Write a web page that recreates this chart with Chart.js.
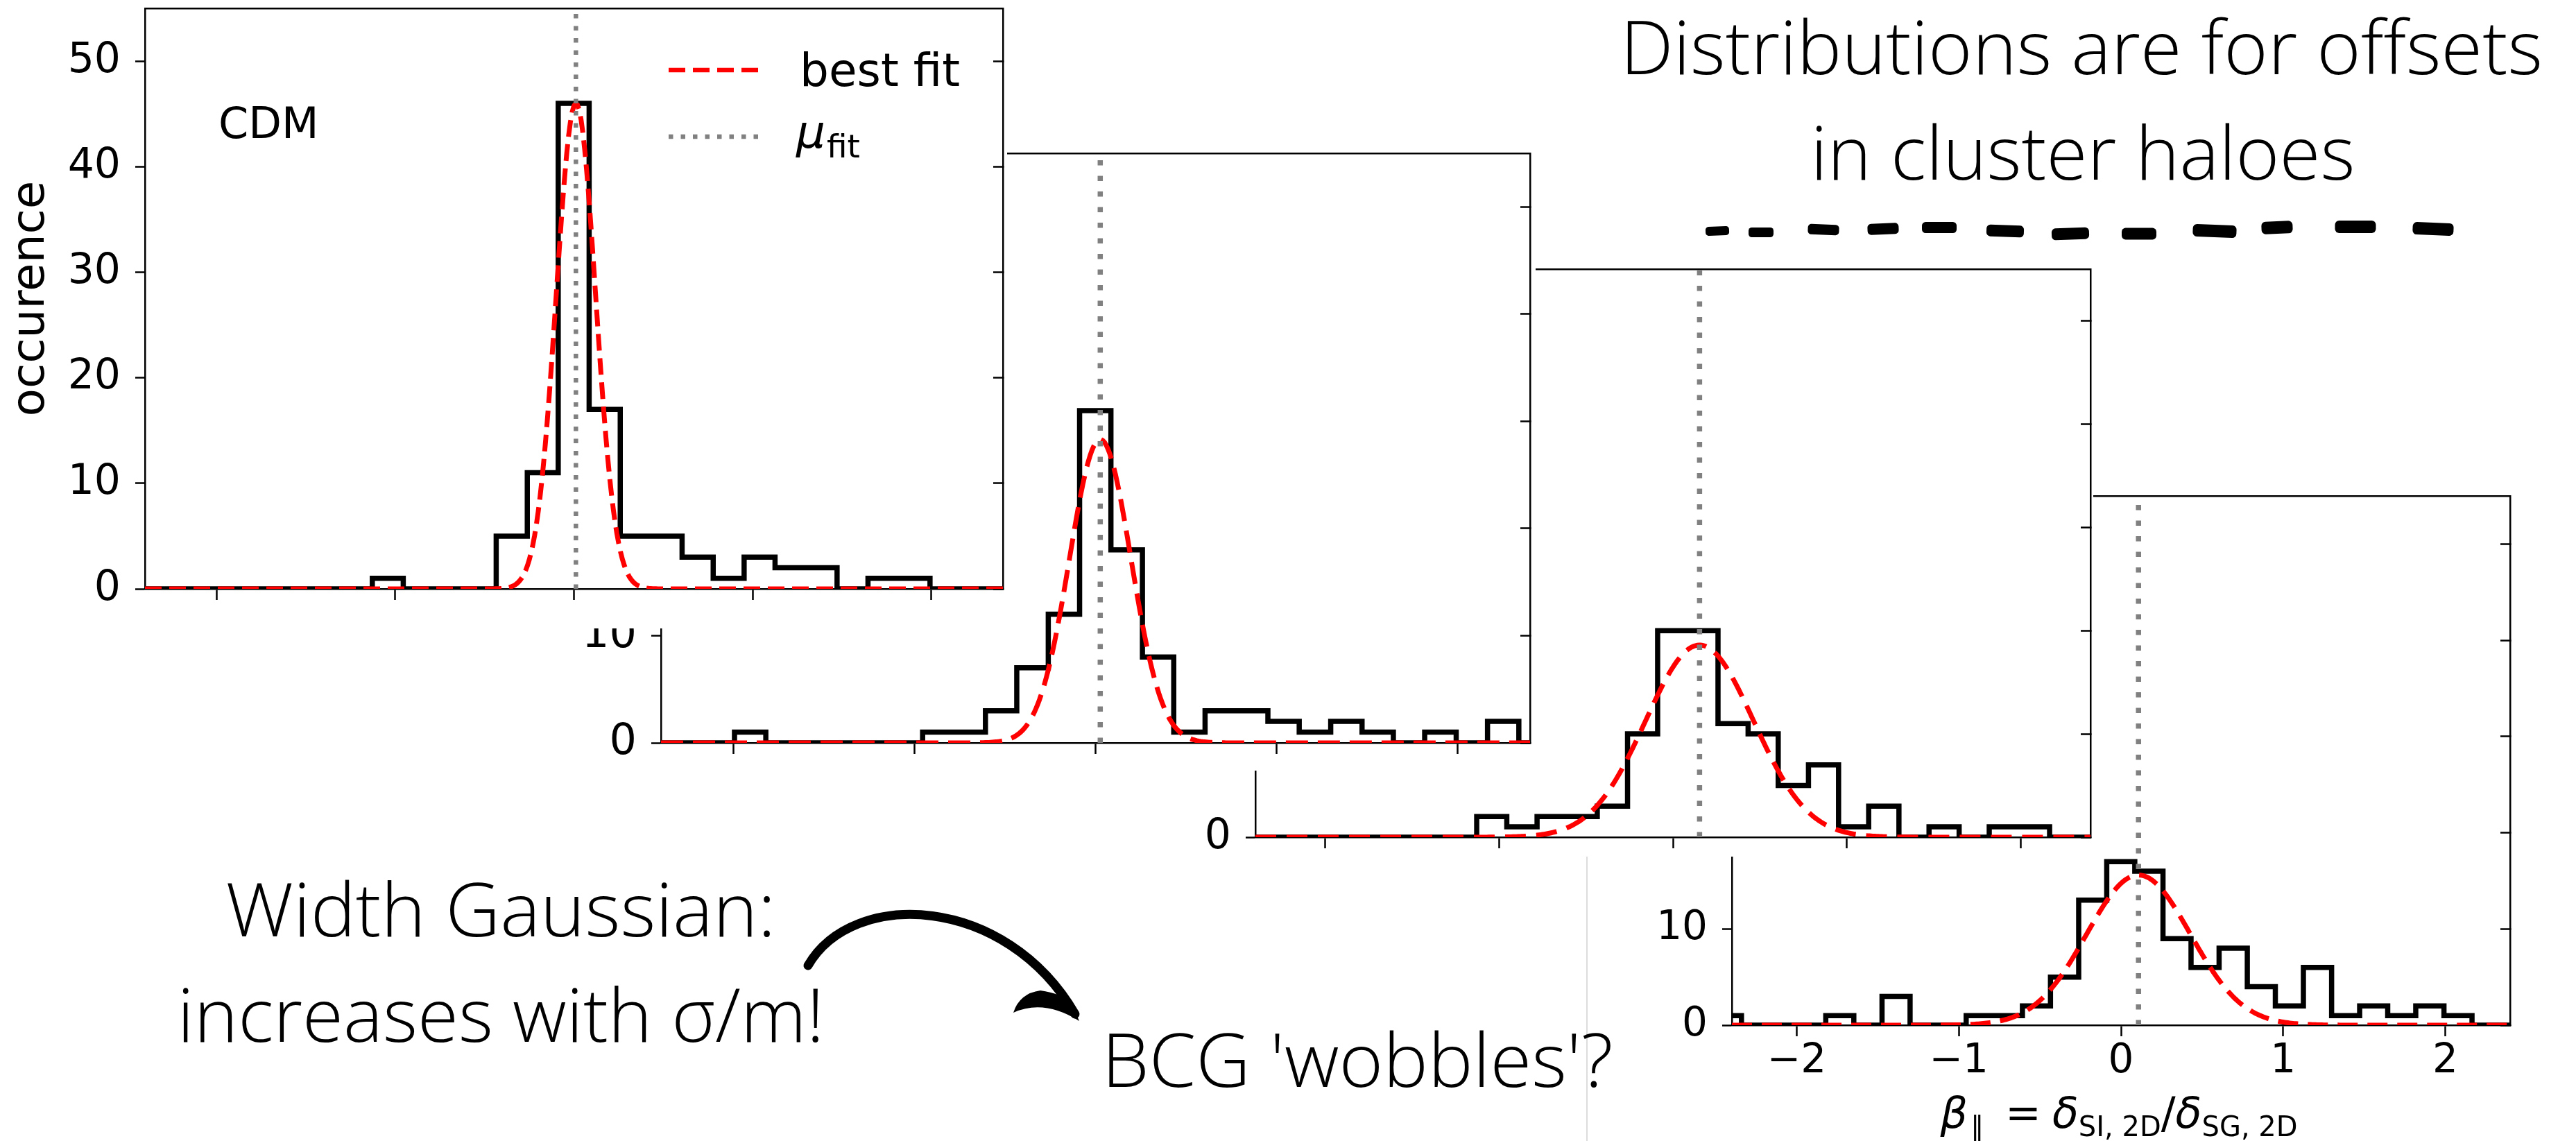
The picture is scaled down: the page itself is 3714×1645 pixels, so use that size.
<!DOCTYPE html>
<html lang="en">
<head>
<meta charset="UTF-8">
<title>Offset distributions</title>
<script src="https://cdn.jsdelivr.net/npm/chart.js@4"></script>
<style>
    html, body { margin: 0; padding: 0; background: #fff; }
    #page { position: relative; width: 3714px; height: 1645px; overflow: hidden; background: #fff; }
    #page canvas { position: absolute; background: #fff; }
    #notes { left: 0; top: 0; background: transparent !important; pointer-events: none; }
    #edge { position: absolute; left: 2287px; top: 690px; width: 2px; height: 955px; background: #dcdcdc; }
</style>
</head>
<body>
<div id="page">
    <canvas id="panel4"></canvas>
    <div id="edge"></div>
    <canvas id="panel3"></canvas>
    <canvas id="panel2"></canvas>
    <canvas id="panel1"></canvas>
    <canvas id="notes" width="3714" height="1645"></canvas>
</div>

<script>
    // histogram bins (shared by all four runs)
    const binEdges = [-2.514, -2.341, -2.168, -1.994, -1.821, -1.648, -1.474, -1.301, -1.128, -0.955,
        -0.781, -0.608, -0.435, -0.261, -0.088, 0.085, 0.259, 0.432, 0.605, 0.779,
        0.952, 1.125, 1.299, 1.472, 1.645, 1.818, 1.992, 2.165, 2.338, 2.512];

    // counts per bin
    const countsCDM   = [0, 0, 0, 0, 0, 0, 0, 0, 1, 0, 0, 0, 5, 11, 46, 17, 5, 5, 3, 1, 3, 2, 2, 0, 1, 1, 0, 0, 0];
    const countsSIDM1 = [0, 0, 0, 1, 0, 0, 0, 0, 0, 1, 1, 3, 7, 12, 31, 18, 8, 1, 3, 3, 2, 1, 2, 1, 0, 1, 0, 2, 0];
    const countsSIDM2 = [0, 0, 0, 0, 0, 0, 0, 0, 2, 1, 2, 2, 3, 10, 20, 20, 11, 10, 5, 7, 1, 3, 0, 1, 0, 1, 1, 0, 0];
    const countsSIDM3 = [1, 0, 0, 0, 1, 0, 3, 0, 0, 1, 1, 2, 5, 13, 17, 16, 9, 6, 8, 4, 2, 6, 1, 2, 1, 2, 1, 0, 0];

    // gaussian fit parameters, one entry per run
    const fitAmp   = [46, 28.3, 18.6, 15.6];
    const fitMean  = [0.011, 0.026, 0.153, 0.108];
    const fitSigma = [0.11, 0.17, 0.31, 0.32];

    const xTicks = [-2, -1, 0, 1, 2];
    const yTicks = [0, 10, 20, 30, 40, 50];
    const xMin = -2.4, xMax = 2.4;
    const yMin = 0, yMax = 55;

    Chart.defaults.font.family = 'DejaVu Sans';
    Chart.defaults.color = '#000';

    const fmt = v => (v < 0 ? '\u2212' + Math.abs(v) : String(v));

    // box = white panel [x, y, w, h], area = plot frame [left, top, right, bottom] on the page
    const panels = [
        { id: 'panel4', counts: countsSIDM3, fit: 3, box: [2290, 690, 1378, 955], area: [2497, 715, 3619, 1478],
          font: 58, dash: [29, 14], dot: [7.5, 15], xLabels: true },
        { id: 'panel3', counts: countsSIDM2, fit: 2, box: [1690, 360, 1328, 875], area: [1810, 388, 3014, 1207],
          font: 60, dash: [30, 15], dot: [7.5, 15], xLabels: false },
        { id: 'panel2', counts: countsSIDM1, fit: 1, box: [820, 195, 1394, 916], area: [953, 221, 2206, 1071],
          font: 62, dash: [32, 14], dot: [7.5, 15], xLabels: false },
        { id: 'panel1', counts: countsCDM, fit: 0, box: [0, 0, 1452, 906], area: [209, 12, 1446, 849],
          font: 60, dash: [24, 11], dot: [6.5, 11], xLabels: false }
    ];

    // legend + run name for the CDM panel
    const cdmDecor = {
        id: 'cdmDecor',
        afterDraw(chart) {
            const ctx = chart.ctx;
            ctx.save();
            ctx.lineWidth = 6.5;
            ctx.strokeStyle = '#ff0000';
            ctx.setLineDash([24, 11]);
            ctx.beginPath(); ctx.moveTo(964, 101); ctx.lineTo(1094, 101); ctx.stroke();
            ctx.strokeStyle = '#808080';
            ctx.setLineDash([6.5, 11]);
            ctx.beginPath(); ctx.moveTo(964, 197); ctx.lineTo(1094, 197); ctx.stroke();
            ctx.setLineDash([]);
            ctx.fillStyle = '#000';
            ctx.textAlign = 'left';
            ctx.textBaseline = 'alphabetic';
            ctx.font = '66px "DejaVu Sans"';
            ctx.fillText('best fit', 1153, 124);
            ctx.font = 'italic 66px "DejaVu Sans"';
            ctx.fillText('\u03bc', 1148, 213);
            const muW = ctx.measureText('\u03bc').width;
            ctx.font = '47px "DejaVu Sans"';
            ctx.fillText('fit', 1148 + muW + 2, 227);
            ctx.font = '62px "DejaVu Sans"';
            ctx.fillText('CDM', 315, 199);
            ctx.restore();
        }
    };

    function drawMath(ctx, parts, cx, baseline) {
        let total = 0;
        parts.forEach(p => { ctx.font = p.font; p.w = ctx.measureText(p.t).width; total += p.w + (p.gap || 0); });
        let x = cx - total / 2;
        ctx.textAlign = 'left';
        ctx.textBaseline = 'alphabetic';
        parts.forEach(p => {
            ctx.font = p.font;
            ctx.fillText(p.t, x, baseline + (p.dy || 0));
            x += p.w + (p.gap || 0);
        });
    }

    // x axis label of the bottom panel
    const betaLabel = {
        id: 'betaLabel',
        afterDraw(chart) {
            const ctx = chart.ctx;
            const it = 'italic 62px "DejaVu Sans"', rm = '62px "DejaVu Sans"', sub = '40px "DejaVu Sans"';
            ctx.save();
            ctx.fillStyle = '#000';
            drawMath(ctx, [
                { t: '\u03b2', font: it, gap: 4 },
                { t: '\u2225', font: sub, dy: 12, gap: 30 },
                { t: '=', font: rm, gap: 16 },
                { t: '\u03b4', font: it },
                { t: 'SI, 2D', font: sub, dy: 12 },
                { t: '/', font: rm },
                { t: '\u03b4', font: it },
                { t: 'SG, 2D', font: sub, dy: 12 }
            ], 3055 - 2290, 1626 - 690);
            ctx.restore();
        }
    };

    function buildPanel(p) {
        const canvas = document.getElementById(p.id);
        const [bx, by, bw, bh] = p.box;
        const [left, top, right, bottom] = p.area;
        canvas.width = bw;
        canvas.height = bh;
        canvas.style.left = bx + 'px';
        canvas.style.top = by + 'px';

        // step outline of the histogram
        const n = p.counts.length;
        const hist = [{ x: binEdges[0], y: 0 }];
        p.counts.forEach((c, k) => hist.push({ x: binEdges[k], y: c }));
        hist.push({ x: binEdges[n], y: p.counts[n - 1] });
        hist.push({ x: binEdges[n], y: 0 });

        // best-fit gaussian
        const a = fitAmp[p.fit], mu = fitMean[p.fit], s = fitSigma[p.fit];
        const curve = [];
        for (let k = 0; k <= 480; k++) {
            const x = xMin + k * 0.01;
            curve.push({ x: x, y: a * Math.exp(-((x - mu) * (x - mu)) / (2 * s * s)) });
        }

        const tickFont = { family: 'DejaVu Sans', size: p.font };
        const axisLine = { display: true, color: '#000', width: 2.5 };
        const setX = sc => { sc.ticks = xTicks.map(v => ({ value: v })); };
        const setY = sc => { sc.ticks = yTicks.map(v => ({ value: v })); };

        const plugins = [];
        if (p.id === 'panel1') plugins.push(cdmDecor);
        if (p.id === 'panel4') plugins.push(betaLabel);

        return new Chart(canvas, {
            type: 'line',
            data: {
                datasets: [
                    { data: [{ x: mu, y: yMin }, { x: mu, y: yMax }], borderColor: '#808080', borderWidth: p.dot[0],
                      borderDash: p.dot, pointRadius: 0, order: 1 },
                    { data: curve, borderColor: '#ff0000', borderWidth: 7, borderDash: p.dash, pointRadius: 0,
                      tension: 0, order: 2 },
                    { data: hist, borderColor: '#000', borderWidth: 7.5, stepped: 'before', pointRadius: 0,
                      borderJoinStyle: 'miter', order: 3 }
                ]
            },
            options: {
                responsive: false,
                animation: false,
                devicePixelRatio: 1,
                events: [],
                layout: { autoPadding: false, padding: { left: 0, top: top - by, right: bx + bw - right, bottom: 0 } },
                plugins: { legend: { display: false }, tooltip: { enabled: false } },
                scales: {
                    x: {
                        type: 'linear', position: 'bottom', min: xMin, max: xMax,
                        afterBuildTicks: setX,
                        afterFit: sc => { sc.height = by + bh - bottom; sc.paddingLeft = 0; sc.paddingRight = 0; },
                        ticks: { display: p.xLabels, font: tickFont, padding: 2, maxRotation: 0, autoSkip: false, callback: fmt },
                        grid: { drawOnChartArea: false, drawTicks: true, tickLength: 16, tickWidth: 2.5, tickColor: '#000' },
                        border: axisLine
                    },
                    x2: {
                        type: 'linear', position: 'top', min: xMin, max: xMax,
                        afterBuildTicks: setX,
                        afterFit: sc => { sc.height = 0; },
                        ticks: { display: false },
                        grid: { drawOnChartArea: false, drawTicks: false },
                        border: axisLine
                    },
                    y: {
                        type: 'linear', position: 'left', min: yMin, max: yMax,
                        afterBuildTicks: setY,
                        afterFit: sc => { sc.width = left - bx; sc.paddingTop = 0; sc.paddingBottom = 0; },
                        ticks: { font: tickFont, padding: 21, callback: v => String(v) },
                        grid: { drawOnChartArea: false, drawTicks: true, tickLength: 14, tickWidth: 2.5, tickColor: '#000' },
                        border: axisLine,
                        title: p.id === 'panel1'
                            ? { display: true, text: 'occurence', color: '#000',
                                font: { family: 'DejaVu Sans', size: 66, lineHeight: 1.2 }, padding: { top: 6, bottom: 0 } }
                            : { display: false }
                    },
                    y2: {
                        type: 'linear', position: 'right', min: yMin, max: yMax,
                        afterBuildTicks: setY,
                        afterFit: sc => { sc.width = 0; sc.paddingTop = 0; sc.paddingBottom = 0; },
                        ticks: { display: false },
                        grid: { drawOnChartArea: false, drawTicks: true, tickLength: -14, tickWidth: 2.5, tickColor: '#000' },
                        border: axisLine
                    }
                }
            },
            plugins: plugins
        });
    }

    panels.forEach(buildPanel);

    // hand-written notes on top of the panels
    const notes = document.getElementById('notes').getContext('2d');

    function note(text, cx, baseline, width) {
        notes.save();
        notes.font = '300 107px "Open Sans"';
        const w = notes.measureText(text).width;
        notes.translate(cx, baseline);
        notes.scale(width / w, 1);
        notes.textAlign = 'center';
        notes.textBaseline = 'alphabetic';
        notes.fillStyle = '#000';
        notes.fillText(text, 0, 0);
        notes.restore();
    }

    note('Distributions are for offsets', 3001, 107, 1330);
    note('in cluster haloes', 3003, 259, 785);
    note('Width Gaussian:', 722, 1350, 793);
    note('increases with \u03c3/m!', 722, 1502, 933);
    note("BCG 'wobbles'?", 1957, 1567, 737);

    // brush dashes under the title: centre x, centre y, length, thickness
    const brush = [[2476, 333, 34, 13], [2539, 335, 36, 14], [2629, 331, 45, 15], [2715, 330, 45, 16],
        [2796, 328, 50, 16], [2891, 333, 54, 17], [2985, 337, 54, 17], [3084, 337, 50, 17],
        [3193, 333, 63, 18], [3283, 328, 45, 18], [3396, 327, 59, 18], [3508, 330, 59, 18]];
    notes.fillStyle = '#000';
    brush.forEach(([cx, cy, len, th], k) => {
        notes.save();
        notes.translate(cx, cy);
        notes.rotate((k % 3 - 1) * 0.04);
        notes.beginPath();
        notes.roundRect(-len / 2, -th / 2, len, th, th / 3);
        notes.fill();
        notes.restore();
    });

    // curved arrow from the width note to the BCG note
    notes.save();
    notes.strokeStyle = '#000';
    notes.lineCap = 'round';
    notes.lineWidth = 13;
    notes.beginPath();
    notes.moveTo(1165, 1392);
    notes.bezierCurveTo(1230, 1280, 1450, 1290, 1550, 1462);
    notes.stroke();
    notes.fillStyle = '#000';
    notes.beginPath();
    notes.moveTo(1556, 1472);
    notes.quadraticCurveTo(1505, 1440, 1461, 1460);
    notes.quadraticCurveTo(1470, 1432, 1500, 1428);
    notes.quadraticCurveTo(1530, 1432, 1545, 1446);
    notes.closePath();
    notes.fill();
    notes.restore();
</script>
</body>
</html>
